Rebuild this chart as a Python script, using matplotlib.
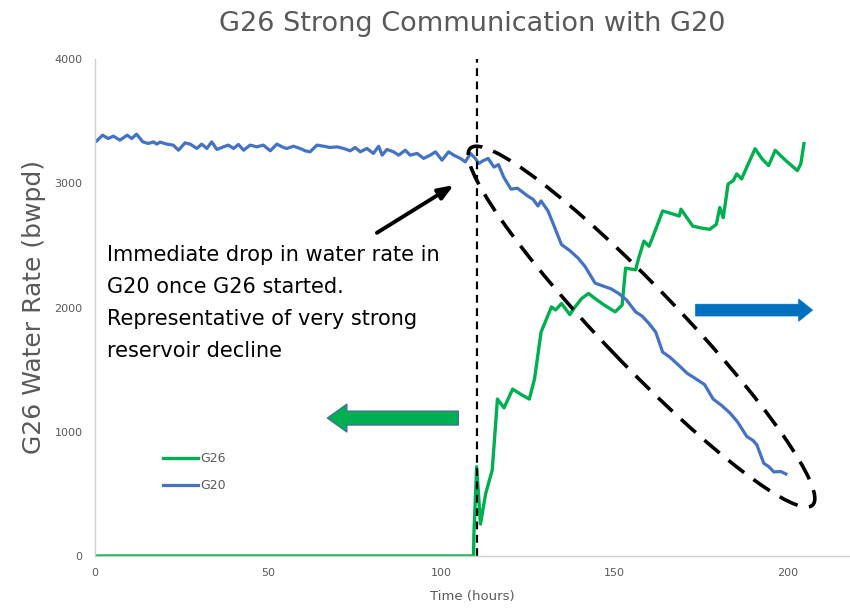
import numpy as np
import matplotlib
matplotlib.use('Agg')
import matplotlib.pyplot as plt
from matplotlib.patches import Ellipse

# G20 water rate (bwpd)
g20_t = [0.5, 2.2, 3.8, 5.3, 7.2, 9.3, 10.6, 12.0, 13.8, 15.4, 16.9, 17.8, 18.8, 20.7,
         22.6, 24.1, 26.0, 27.5, 29.4, 30.8, 32.3, 33.7, 35.2, 37.1, 38.5, 40.0, 41.4,
         42.9, 44.8, 46.7, 48.6, 50.6, 52.5, 54.4, 55.4, 57.3, 59.2, 60.7, 62.1, 64.1,
         66.0, 67.9, 69.9, 71.8, 73.7, 75.1, 76.6, 78.5, 80.4, 81.9, 82.9, 84.3, 86.2,
         87.7, 89.6, 91.0, 93.0, 94.9, 96.8, 98.3, 100.2, 102.1, 103.6, 105.5, 106.9,
         108.4, 109.8, 110.8, 112.0, 113.5, 115.2, 116.5, 118.0, 120.1, 122.0, 124.9,
         126.5, 127.9, 128.8, 130.8, 132.5, 134.7, 137.0, 139.5, 141.5, 144.4, 147.3,
         149.0, 151.2, 153.5, 156.1, 158.0, 160.0, 161.9, 163.9, 166.0, 168.7, 171.0,
         173.6, 176.0, 178.5, 181.0, 183.3, 185.5, 188.2, 190.0, 191.1, 193.1, 194.5,
         196.0, 198.0, 199.5]
g20_q = [3341, 3387, 3360, 3379, 3347, 3387, 3360, 3395, 3333, 3320, 3333, 3315, 3331, 3315,
         3307, 3266, 3325, 3315, 3280, 3315, 3280, 3333, 3272, 3293, 3307, 3280, 3312,
         3266, 3307, 3293, 3307, 3261, 3315, 3288, 3280, 3298, 3280, 3261, 3253, 3307,
         3298, 3288, 3293, 3280, 3261, 3288, 3253, 3280, 3240, 3298, 3226, 3272, 3253,
         3226, 3266, 3226, 3240, 3200, 3226, 3253, 3186, 3253, 3226, 3200, 3172,
         3240, 3200, 3159, 3180, 3200, 3130, 3150, 3050, 2953, 2960, 2898,
         2870, 2817, 2858, 2777, 2660, 2506, 2460, 2397, 2330, 2196, 2167,
         2150, 2113, 2060, 1965, 1930, 1870, 1802, 1641, 1600, 1531, 1470,
         1424, 1380, 1263, 1210, 1152, 1080, 962, 930, 895, 746, 720,
         677, 680, 660]

# G26 water rate (bwpd)
g26_t = [0, 109.3, 109.4, 110.2, 111.3, 112.8, 114.7, 116.2, 118.1, 120.6, 123.0, 125.4,
         126.9, 128.8, 131.8, 133.0, 134.7, 137.1, 138.5, 140.5, 142.5, 144.4, 147.0,
         150.2, 152.2, 153.2, 156.1, 157.0, 158.5, 160.0, 161.9, 163.9, 166.0, 168.7,
         169.2, 172.6, 175.0, 177.5, 179.4, 180.4, 181.4, 182.8, 184.3, 185.3, 186.7,
         188.2, 190.6, 192.5, 194.5, 196.4, 199.4, 202.8, 203.8, 204.7]
g26_q = [0, 0, 177, 718, 257, 502, 692, 1263, 1192, 1343, 1300, 1263,
         1424, 1802, 2005, 1980, 2032, 1943, 2000, 2072, 2113, 2072, 2020,
         1965, 2019, 2317, 2303, 2400, 2534, 2493, 2629, 2777, 2760, 2736,
         2791, 2655, 2640, 2629, 2669, 2805, 2723, 2994, 3021, 3075, 3035,
         3130, 3278, 3200, 3142, 3265, 3184, 3102, 3156, 3319]

start_t = 110.4
note = ("Immediate drop in water rate in\nG20 once G26 started.\n"
        "Representative of very strong\nreservoir decline")

grey = '#595959'
fig = plt.figure(figsize=(8.5, 6.09), dpi=100)
ax = fig.add_axes([95/850, 53/609, 755/850, 497/609])

ax.plot(g26_t, g26_q, color='#00b050', lw=2.4, label='G26', solid_joinstyle='round')
ax.plot(g20_t, g20_q, color='#4472c4', lw=2.3, label='G20', solid_joinstyle='round')
ax.axvline(start_t, color='black', lw=1.6, ls=(0, (3.5, 2.5)))

ax.set_xlim(0, 218)
ax.set_ylim(0, 4000)
ax.set_xticks([0, 50, 100, 150, 200])
ax.set_yticks([0, 1000, 2000, 3000, 4000])
ax.tick_params(length=0, labelsize=8, colors=grey, pad=9)
for s in ['top', 'right']:
    ax.spines[s].set_visible(False)
for s in ['left', 'bottom']:
    ax.spines[s].set_color('#d0d0d0')
    ax.spines[s].set_linewidth(1)
ax.set_xlabel('Time (hours)', fontsize=9.5, color=grey, labelpad=8)
ax.set_ylabel('G26 Water Rate (bwpd)', fontsize=18, color=grey, labelpad=6)
fig.suptitle('G26 Strong Communication with G20', fontsize=19.5, color=grey, x=0.555, y=0.982)

ax.legend(loc='upper left', bbox_to_anchor=(0.075, 0.232), frameon=False, fontsize=9,
          labelcolor=grey, handlelength=2.8, handletextpad=0.2, labelspacing=1.15)

# dashed ellipse round the G20 decline
p1 = ax.transData.transform((108.4, 3282))
p2 = ax.transData.transform((207.2, 410))
c = (p1 + p2) / 2
d = p2 - p1
ell = Ellipse(c, width=np.hypot(*d), height=77, angle=np.degrees(np.arctan2(d[1], d[0])),
              transform=None, fill=False, ec='black', lw=2.6, ls=(0, (5.5, 3.2)))
fig.patches.append(ell)

# text and pointer
ax.text(3.5, 2040, note, fontsize=15, color='black', va='center', ha='left',
        linespacing=1.75)
ax.annotate('', xy=(103.6, 2985), xytext=(81.4, 2601),
            arrowprops=dict(arrowstyle='-|>,head_length=0.9,head_width=0.35', color='black',
                            lw=2.8, shrinkA=0, shrinkB=0, mutation_scale=10))

# block arrows
ax.annotate('', xy=(67.1, 1110), xytext=(104.9, 1110),
            arrowprops=dict(arrowstyle='simple,head_length=14,head_width=20,tail_width=10',
                            fc='#00b050', ec='#41719c', lw=1, shrinkA=0, shrinkB=0,
                            mutation_scale=1))
ax.annotate('', xy=(207.2, 1979), xytext=(173.4, 1979),
            arrowprops=dict(arrowstyle='simple,head_length=10,head_width=16,tail_width=8.5',
                            fc='#0070c0', ec='#0070c0', lw=0.5, shrinkA=0, shrinkB=0,
                            mutation_scale=1))

fig.savefig('out.png', dpi=100)
